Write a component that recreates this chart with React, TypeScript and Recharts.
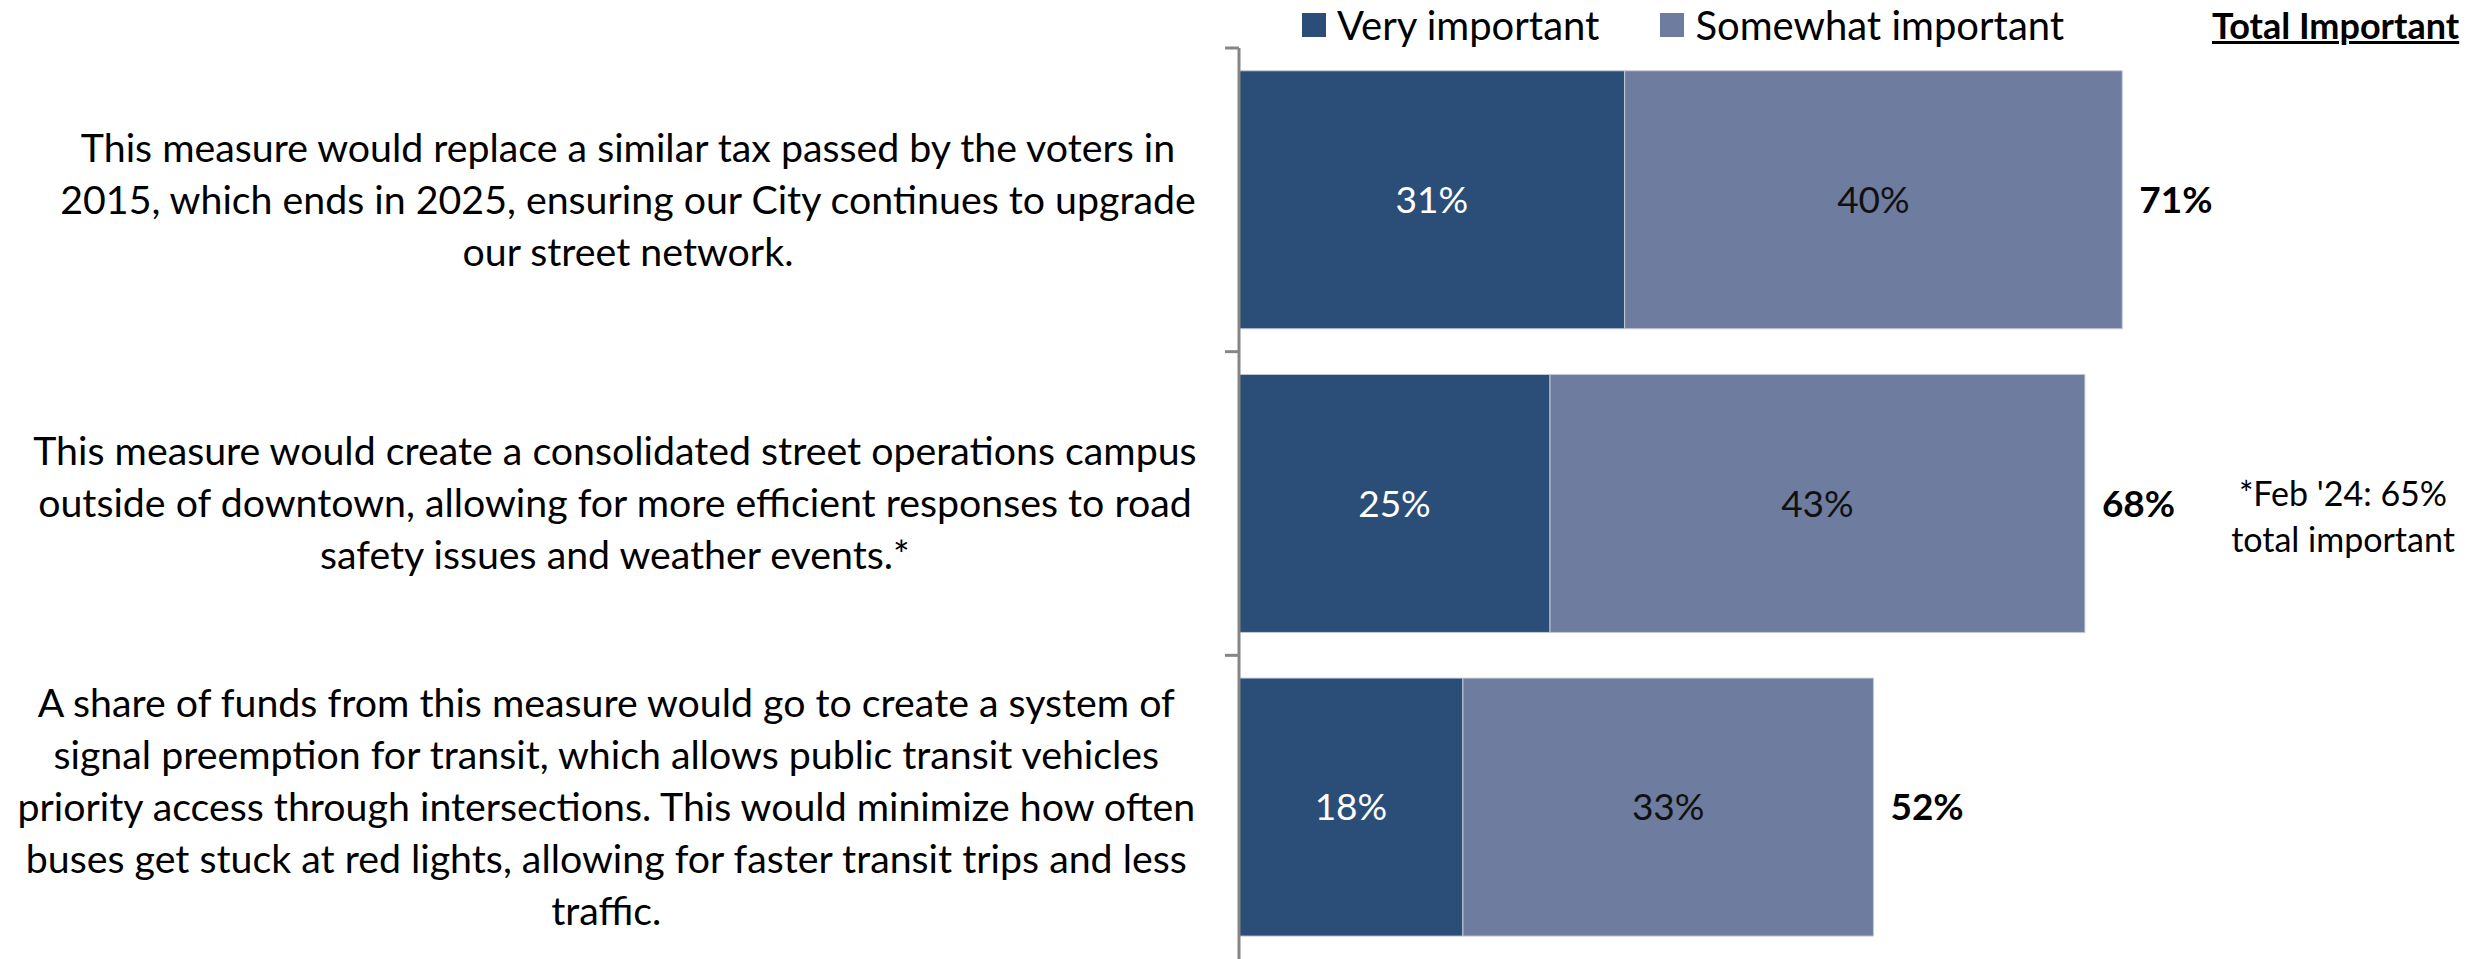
import React from 'react'
import { BarChart, Bar, XAxis, YAxis, LabelList } from 'recharts'

// question text, one entry per row, already broken into lines like the slide
const questionLines = [
  [
    'This measure would replace a similar tax passed by the voters in',
    '2015, which ends in 2025, ensuring our City continues to upgrade',
    'our street network.',
  ],
  [
    'This measure would create a consolidated street operations campus',
    'outside of downtown, allowing for more efficient responses to road',
    'safety issues and weather events.*',
  ],
  [
    'A share of funds from this measure would go to create a system of',
    'signal preemption for transit, which allows public transit vehicles',
    'priority access through intersections. This would minimize how often',
    'buses get stuck at red lights, allowing for faster transit trips and less',
    'traffic.',
  ],
]
const veryImportant = [31, 25, 18]
const somewhatImportant = [40, 43, 33]
const totalImportant = [71, 68, 52]
const footnoteLines = ["*Feb '24: 65%", 'total important']

const DARK = '#2a4e77'
const LIGHT = '#6e7c9f'
const AXIS = '#868686'
const FONT = 'Lato, "Open Sans", sans-serif'

const W = 2483
const H = 959
const AXIS_X = 1239
const TOP = 48
const BAND = (H - TOP) / questionLines.length
const LABEL_RIGHT = 1197
const FS_Q = 39.3 // question text
const FS = 37 // data labels
const LINE_H = 52

const chartData = questionLines.map((_, i) => ({
  name: `q${i + 1}`,
  very: veryImportant[i],
  somewhat: somewhatImportant[i],
  total: totalImportant[i],
}))

let ctx: CanvasRenderingContext2D | null = null
const measure = (s: string) => {
  if (!ctx) ctx = document.createElement('canvas').getContext('2d')
  if (!ctx) return s.length * FS_Q * 0.45
  ctx.font = `${FS_Q}px ${FONT}`
  return ctx.measureText(s).width
}

const QuestionTick = (props: any) => {
  const { y, payload } = props
  const idx = chartData.findIndex((d) => d.name === payload.value)
  const lines = questionLines[idx] || []
  const widest = Math.max(...lines.map(measure))
  const cx = Math.max(LABEL_RIGHT - widest / 2, widest / 2 + 6)
  const first = y - ((lines.length - 1) * LINE_H) / 2
  const boundary = y - BAND / 2
  return (
    <g>
      <line x1={AXIS_X - 14} x2={AXIS_X} y1={boundary} y2={boundary} stroke={AXIS} strokeWidth={3} />
      <text textAnchor="middle" fontSize={FS_Q} fontFamily={FONT} fill="#000">
        {lines.map((l, i) => (
          <tspan key={i} x={cx} y={first + i * LINE_H} dy="0.35em">
            {l}
          </tspan>
        ))}
      </text>
    </g>
  )
}

const pct = (v: any) => `${v}%`

export default function App() {
  return (
    <div
      style={{
        position: 'absolute',
        left: 0,
        top: 0,
        width: 2481,
        height: H,
        overflow: 'hidden',
        background: '#fff',
        fontFamily: FONT,
      }}
    >
      <BarChart
        width={W}
        height={H}
        data={chartData}
        layout="vertical"
        margin={{ top: TOP, right: 0, bottom: 0, left: 0 }}
        barCategoryGap="7.5%"
      >
        <XAxis type="number" domain={[0, 100]} hide />
        <YAxis
          type="category"
          dataKey="name"
          width={AXIS_X}
          axisLine={{ stroke: AXIS, strokeWidth: 3 }}
          tickLine={false}
          tick={<QuestionTick />}
          interval={0}
        />
        <Bar dataKey="very" stackId="a" fill={DARK} stroke="#c3c9d4" strokeWidth={1} isAnimationActive={false}>
          <LabelList dataKey="very" position="center" formatter={pct} fill="#fff" fontSize={FS} fontFamily={FONT} />
        </Bar>
        <Bar dataKey="somewhat" stackId="a" fill={LIGHT} stroke="#c3c9d4" strokeWidth={1} isAnimationActive={false}>
          <LabelList dataKey="somewhat" position="center" formatter={pct} fill="#111" fontSize={FS} fontFamily={FONT} />
          <LabelList
            dataKey="total"
            position="right"
            offset={17}
            formatter={pct}
            fill="#000"
            fontSize={FS}
            fontWeight="bold"
            fontFamily={FONT}
          />
        </Bar>
      </BarChart>

      {/* legend row */}
      <div style={{ position: 'absolute', top: 2, left: 1302, display: 'flex', alignItems: 'center', fontSize: 40, lineHeight: '46px' }}>
        <span style={{ width: 24, height: 24, background: DARK, marginRight: 11 }} />
        <span style={{ marginRight: 61 }}>Very important</span>
        <span style={{ width: 24, height: 24, background: LIGHT, marginRight: 11 }} />
        <span>Somewhat important</span>
      </div>
      <div
        style={{
          position: 'absolute',
          top: 2,
          left: 2212,
          fontSize: 36,
          lineHeight: '46px',
          fontWeight: 'bold',
          textDecoration: 'underline',
          textDecorationThickness: 3,
        }}
      >
        Total Important
      </div>

      {/* footnote */}
      <div
        style={{
          position: 'absolute',
          top: 470,
          left: 2213,
          width: 260,
          textAlign: 'center',
          fontSize: 34,
          lineHeight: '46px',
        }}
      >
        {footnoteLines.map((l) => (
          <div key={l}>{l}</div>
        ))}
      </div>
    </div>
  )
}
